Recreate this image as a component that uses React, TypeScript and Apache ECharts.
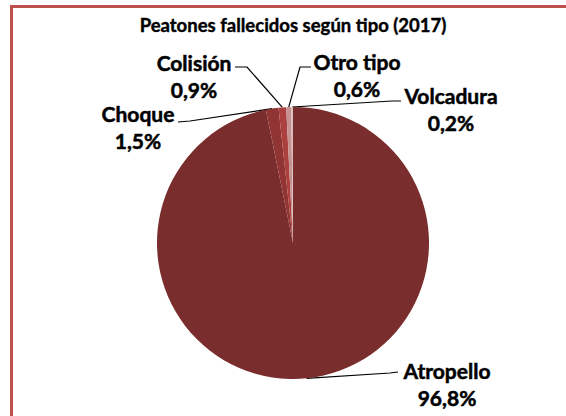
import React, { useEffect, useRef } from "react";
import * as echarts from "echarts";

const titleText = "Peatones fallecidos según tipo (2017)";
const categories = ["Atropello", "Choque", "Colisión", "Otro tipo", "Volcadura"];
const values = [96.8, 1.5, 0.9, 0.6, 0.2];

const sliceColors = ["#792D2C", "#903533", "#AB403E", "#C49291", "#DDBDBC"];

// layout of labels: block centre, and leader-line elbow points
const labelLayoutPos: Record<string, { x: number; y: number; line: number[][] }> = {
  Atropello: { x: 447, y: 384, line: [[390, 373], [398, 372]] },
  Choque: { x: 138, y: 127, line: [[190, 121], [178, 122]] },
  "Colisión": { x: 194, y: 76, line: [[247, 67], [235, 67]] },
  "Otro tipo": { x: 357, y: 75, line: [[300, 67], [311, 67]] },
  Volcadura: { x: 451, y: 109, line: [[392, 101], [401, 101]] },
};

const FONT = "Lato, 'Open Sans', sans-serif";

export default function App() {
  const ref = useRef<HTMLDivElement>(null);
  useEffect(() => {
    document.body.style.margin = "0";
    if (!ref.current) return;
    const chart = echarts.init(ref.current, undefined, { renderer: "svg" });
    chart.setOption({
      animation: false,
      backgroundColor: "#ffffff",
      title: {
        text: titleText,
        left: 288,
        top: 10,
        textAlign: "center",
        textStyle: {
          fontFamily: FONT,
          fontSize: 18.5,
          fontWeight: "bold",
          color: "#000",
          textBorderColor: "#000",
          textBorderWidth: 0.4,
        },
      },
      graphic: [
        {
          type: "rect",
          shape: { x: 11.5, y: 6.5, width: 620, height: 480 },
          style: { fill: "none", stroke: "#C0504D", lineWidth: 3 },
          silent: true,
        },
      ],
      series: [
        {
          type: "pie",
          center: [293, 243],
          radius: 136,
          startAngle: 90,
          clockwise: true,
          avoidLabelOverlap: false,
          itemStyle: { borderWidth: 0 },
          label: {
            show: true,
            position: "outside",
            fontFamily: FONT,
            fontSize: 21,
            fontWeight: "bold",
            color: "#000",
            textBorderColor: "#000",
            textBorderWidth: 0.5,
            lineHeight: 27,
            align: "center",
            formatter: (p: any) =>
              p.name + "\n" + Number(p.value).toFixed(1).replace(".", ",") + "%",
          },
          labelLine: { show: true, length: 10, length2: 10, lineStyle: { color: "#000", width: 1.2 } },
          labelLayout: (params: any) => {
            const name = categories[params.dataIndex];
            const pos = labelLayoutPos[name];
            const p0 = params.labelLinePoints ? params.labelLinePoints[0] : null;
            const out: any = {
              x: pos.x,
              y: pos.y,
              align: "center",
              verticalAlign: "middle",
            };
            if (p0) out.labelLinePoints = [p0, pos.line[0], pos.line[1]];
            return out;
          },
          data: categories.map((c, i) => ({
            name: c,
            value: values[i],
            itemStyle: { color: sliceColors[i] },
          })),
        },
      ],
    });
    return () => chart.dispose();
  }, []);
  return <div ref={ref} style={{ width: 566, height: 416 }} />;
}
